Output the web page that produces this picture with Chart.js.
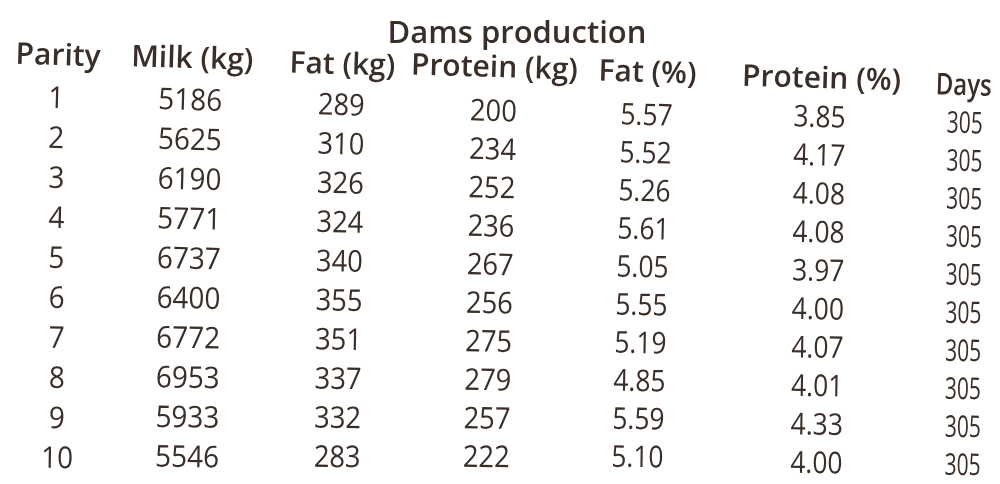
<!DOCTYPE html>
<html>
<head>
<meta charset="utf-8">
<title>Dams production</title>
<script src="https://cdn.jsdelivr.net/npm/chart.js@4.4.1/dist/chart.umd.min.js"></script>
<style>
    html, body { margin: 0; padding: 0; background: #ffffff; }
    #wrap { width: 1000px; height: 484px; position: relative; }
</style>
</head>
<body>
<div id="wrap"><canvas id="damsChart"></canvas></div>
<script>
// table data
const columns = ["Parity", "Milk (kg)", "Fat (kg)", "Protein (kg)", "Fat (%)", "Protein (%)", "Days"];
const parity = [1, 2, 3, 4, 5, 6, 7, 8, 9, 10];
const milkKg = [5186, 5625, 6190, 5771, 6737, 6400, 6772, 6953, 5933, 5546];
const fatKg = [289, 310, 326, 324, 340, 355, 351, 337, 332, 283];
const proteinKg = [200, 234, 252, 236, 267, 256, 275, 279, 257, 222];
const fatPct = [5.57, 5.52, 5.26, 5.61, 5.05, 5.55, 5.19, 4.85, 5.59, 5.10];
const proteinPct = [3.85, 4.17, 4.08, 4.08, 3.97, 4.00, 4.07, 4.01, 4.33, 4.00];
const days = [305, 305, 305, 305, 305, 305, 305, 305, 305, 305];
const decimals = [0, 0, 0, 0, 2, 2, 0];

const series = [parity, milkKg, fatKg, proteinKg, fatPct, proteinPct, days];

// the photo is a bit skewed, so every column gets small pixel nudges
const ink = "#3a2e28";
const colShift = { top: [13, -6, -8, -9, -9, 11, 3], bottom: [14, -9, -12, -16, -18, 8, 1] };
const rowDrop = { top: [0, 2, 7, 13, 17, 19, 25], bottom: [0, -1, -1, -1, -1, 5, 7] };
const headShift = [15, -4, -7, -8, -8, 13, 2];
const headDrop = [-3, 0, 6, 9, 14, 20, 27];
const squeeze = [0.93, 0.93, 0.91, 0.91, 0.88, 0.88, 0.70];
const headSqueeze = [1, 1, 1, 1, 1, 1, 0.8];

function lerp(a, b, t) {
    return a + (b - a) * t;
}

const cellText = {
    id: "cellText",
    afterDatasetsDraw(chart) {
        const ctx = chart.ctx;
        ctx.save();
        ctx.fillStyle = ink;
        ctx.textAlign = "center";
        ctx.textBaseline = "alphabetic";

        chart.data.datasets.forEach((ds, di) => {
            const meta = chart.getDatasetMeta(di);

            meta.data.forEach((pt, i) => {
                let x = pt.x, y = pt.y, sq, angle;

                if (ds.isHeader) {
                    x += headShift[i];
                    y += headDrop[i];
                    sq = headSqueeze[i];
                    angle = 1.7;
                    ctx.font = "600 30px 'Open Sans'";
                } else {
                    const c = ds.col;
                    const t = i / 9;
                    x += lerp(colShift.top[c], colShift.bottom[c], t);
                    y += lerp(rowDrop.top[c], rowDrop.bottom[c], t);
                    sq = squeeze[c];
                    angle = lerp(1.6, 0.7, t);
                    ctx.font = "400 30px 'Open Sans'";
                }

                ctx.save();
                ctx.translate(x, y);
                ctx.rotate(angle * Math.PI / 180);
                ctx.scale(sq, 1);
                ctx.fillText(ds.texts[i], 0, 0);
                ctx.restore();
            });
        });

        ctx.restore();
    }
};

const datasets = series.map((values, c) => ({
    label: columns[c],
    col: c,
    texts: values.map(v => v.toFixed(decimals[c])),
    data: values.map((v, i) => ({ x: c, y: parity[i] }))
}));

datasets.push({
    label: "header",
    isHeader: true,
    texts: columns,
    data: columns.map((name, c) => ({ x: c, y: 0 }))
});

const ctx = document.getElementById("damsChart").getContext("2d");

new Chart(ctx, {
    type: "scatter",
    data: { datasets: datasets },
    options: {
        responsive: true,
        maintainAspectRatio: false,
        animation: false,
        events: [],
        layout: { padding: { left: 34, right: 0, top: 0, bottom: 0 } },
        elements: { point: { radius: 0 } },
        plugins: {
            legend: { display: false },
            tooltip: { enabled: false },
            title: {
                display: true,
                text: "Dams production",
                color: ink,
                font: { family: "'Open Sans'", size: 31, weight: "600" },
                padding: { top: 16, bottom: 0 }
            }
        },
        scales: {
            x: { type: "linear", min: -0.058, max: 6.252, display: false },
            y: { type: "linear", reverse: true, min: -0.37, max: 10.4, display: false }
        }
    },
    plugins: [cellText]
});
</script>
</body>
</html>
